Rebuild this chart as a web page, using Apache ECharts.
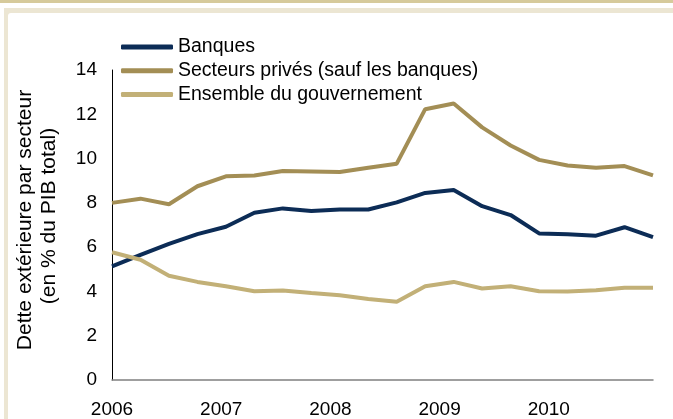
<!DOCTYPE html>
<html>
<head>
<meta charset="utf-8">
<script src="https://cdn.jsdelivr.net/npm/echarts@6/dist/echarts.min.js"></script>
<style>
html,body{margin:0;padding:0;background:#fff;}
#c{width:673px;height:419px;}
</style>
</head>
<body>
<div id="c"></div>
<script>
const quarters = ['2006T1','2006T2','2006T3','2006T4','2007T1','2007T2','2007T3','2007T4','2008T1','2008T2','2008T3','2008T4','2009T1','2009T2','2009T3','2009T4','2010T1','2010T2','2010T3','2010T4'];
const yearLabels = ['2006','2007','2008','2009','2010'];
const banques = [5.13,5.65,6.15,6.59,6.92,7.55,7.75,7.63,7.70,7.70,8.02,8.45,8.58,7.85,7.45,6.62,6.58,6.52,6.90,6.45];
const secteursPrives = [8.00,8.19,7.94,8.75,9.20,9.24,9.44,9.42,9.39,9.59,9.77,12.23,12.49,11.41,10.59,9.94,9.69,9.59,9.66,9.24];
const gouvernement = [5.77,5.43,4.71,4.43,4.23,4.01,4.04,3.93,3.83,3.66,3.53,4.23,4.43,4.13,4.23,4.01,4.00,4.05,4.17,4.17];
const seriesNames = ['Banques','Secteurs privés (sauf les banques)','Ensemble du gouvernement'];
const yTitle = ['Dette extérieure par secteur','(en % du PIB total)'];

const chart = echarts.init(document.getElementById('c'));
const font = 'Liberation Sans, Arial, sans-serif';
chart.setOption({
  animation:false,
  backgroundColor:'#fff',
  graphic:[
    {type:'rect',shape:{x:0,y:0,width:673,height:3},style:{fill:'#d6ca9b'},z:-10},
    {type:'rect',shape:{x:4,y:8,width:669,height:411},style:{fill:'#ece6d3'},z:-10},
    {type:'rect',shape:{x:8,y:13,width:665,height:406,r:[3,0,0,0]},style:{fill:'#ffffff'},z:-9},
    {type:'text',x:25,y:220,rotation:Math.PI/2,style:{text:yTitle[0],font:'21px '+font,fill:'#000',align:'center',verticalAlign:'middle'}},
    {type:'text',x:49,y:216,rotation:Math.PI/2,style:{text:yTitle[1],font:'21px '+font,fill:'#000',align:'center',verticalAlign:'middle'}}
  ],
  grid:{left:112,top:70,right:20,bottom:38,containLabel:false},
  legend:{
    orient:'vertical',left:116,top:32,itemWidth:52,itemHeight:5,itemGap:3.7,icon:'roundRect',
    textStyle:{fontFamily:font,fontSize:19.5,color:'#000',lineHeight:20},
    data:seriesNames
  },
  xAxis:[
    {type:'category',data:quarters,boundaryGap:false,
     axisLine:{lineStyle:{color:'#808080',width:1.5}},axisTick:{show:false},axisLabel:{show:false},splitLine:{show:false}},
    {type:'value',min:0,max:540/109,interval:1,position:'bottom',
     axisLine:{show:false},axisTick:{show:false},splitLine:{show:false},
     axisLabel:{margin:20,fontFamily:font,fontSize:19,color:'#000',
       formatter:function(v){const i=Math.round(v);return (Math.abs(v-i)<1e-6 && yearLabels[i])?yearLabels[i]:'';}}}
  ],
  yAxis:{type:'value',min:0,max:14,interval:2,
    axisLine:{show:true,lineStyle:{color:'#000',width:1}},axisTick:{show:false},splitLine:{show:false},
    axisLabel:{margin:15,fontFamily:font,fontSize:19,color:'#000'}},
  series:[
    {name:seriesNames[0],type:'line',xAxisIndex:0,data:banques,symbol:'none',lineStyle:{width:4,color:'#0c2c56'},itemStyle:{color:'#0c2c56'}},
    {name:seriesNames[1],type:'line',xAxisIndex:0,data:secteursPrives,symbol:'none',lineStyle:{width:4,color:'#a38e55'},itemStyle:{color:'#a38e55'}},
    {name:seriesNames[2],type:'line',xAxisIndex:0,data:gouvernement,symbol:'none',lineStyle:{width:4,color:'#c2b077'},itemStyle:{color:'#c2b077'}}
  ]
});
</script>
</body>
</html>
